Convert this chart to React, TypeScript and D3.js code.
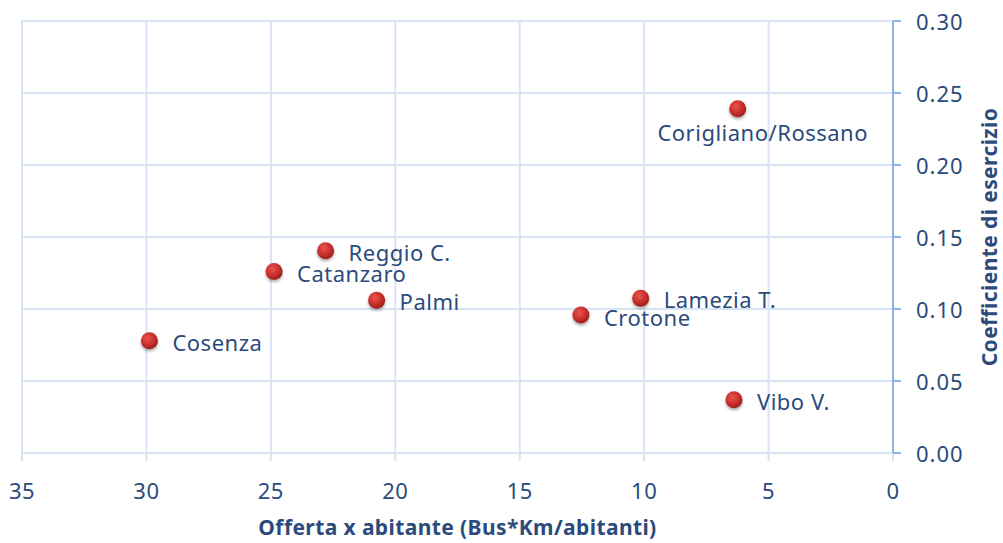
import React from "react";
import * as d3 from "d3";

const cities = ["Corigliano/Rossano", "Reggio C.", "Catanzaro", "Palmi", "Cosenza", "Lamezia T.", "Crotone", "Vibo V."];
const offerta = [6.24, 22.8, 24.87, 20.75, 29.88, 10.14, 12.54, 6.39];
const coefficiente = [0.239, 0.1405, 0.126, 0.106, 0.078, 0.1075, 0.0958, 0.037];
const xTicks = [35, 30, 25, 20, 15, 10, 5, 0];
const yTicks = [0, 0.05, 0.1, 0.15, 0.2, 0.25, 0.3];

const W = 1003;
const H = 543;
const left = 22;
const right = 893;
const top = 21;
const bottom = 453;

const gridColor = "#d7e4f5";
const textColor = "#2b4b7c";
const font = "'Noto Sans', 'Open Sans', sans-serif";

export default function App() {
  const x = d3.scaleLinear().domain([35, 0]).range([left, right]);
  const y = d3.scaleLinear().domain([0, 0.3]).range([bottom, top]);
  const fmt = d3.format(".2f");

  return (
    <svg width={W} height={H} style={{ position: "absolute", left: 0, top: 0, background: "#fff" }}>
      <defs>
        <radialGradient id="dot" cx="40%" cy="35%" r="65%">
          <stop offset="0%" stopColor="#e8554f" />
          <stop offset="60%" stopColor="#c9302c" />
          <stop offset="100%" stopColor="#9e1f1c" />
        </radialGradient>
        <filter id="shadow" x="-50%" y="-50%" width="200%" height="200%">
          <feDropShadow dx="0" dy="2" stdDeviation="1.6" floodColor="#000" floodOpacity="0.35" />
        </filter>
      </defs>

      {/* vertical grid + x ticks */}
      {xTicks.map(t => (
        <line key={"vx" + t} x1={x(t)} x2={x(t)} y1={top} y2={bottom + 8} stroke={gridColor} strokeWidth={2} />
      ))}
      {/* horizontal grid */}
      {yTicks.map(t => (
        <line key={"hy" + t} x1={left} x2={right} y1={y(t)} y2={y(t)} stroke={gridColor} strokeWidth={2} />
      ))}

      {/* right y axis */}
      <line x1={right} x2={right} y1={top} y2={bottom} stroke="#8db3e2" strokeWidth={2} />
      {yTicks.map(t => (
        <line key={"yt" + t} x1={right} x2={right + 8} y1={y(t)} y2={y(t)} stroke="#8db3e2" strokeWidth={2} />
      ))}

      {/* tick labels */}
      {xTicks.map(t => (
        <text key={"xl" + t} x={x(t)} y={490} textAnchor="middle" dominantBaseline="central"
          fontFamily={font} fontSize={22} letterSpacing={0.5} fill={textColor}>{t}</text>
      ))}
      {yTicks.map(t => (
        <text key={"yl" + t} x={916} y={y(t)} dominantBaseline="central"
          fontFamily={font} fontSize={22} letterSpacing={1} fill={textColor}>{fmt(t)}</text>
      ))}

      {/* axis titles */}
      <text x={(left + right) / 2} y={527} textAnchor="middle" dominantBaseline="central"
        fontFamily={font} fontSize={21} letterSpacing={0.4} fontWeight="bold" fill={textColor}>
        Offerta x abitante (Bus*Km/abitanti)
      </text>
      <text transform={`translate(989,${(top + bottom) / 2}) rotate(-90)`} textAnchor="middle" dominantBaseline="central"
        fontFamily={font} fontSize={21} letterSpacing={0.4} fontWeight="bold" fill={textColor}>
        Coefficiente di esercizio
      </text>

      {/* points */}
      {cities.map((c, i) => (
        <circle key={"p" + c} cx={x(offerta[i])} cy={y(coefficiente[i])} r={8.5}
          fill="url(#dot)" filter="url(#shadow)" />
      ))}

      {/* labels */}
      {cities.map((c, i) => {
        const below = i === 0;
        return (
          <text key={"l" + c}
            x={below ? x(offerta[i]) + 25 : x(offerta[i]) + 23}
            y={below ? y(coefficiente[i]) + 23 : y(coefficiente[i]) + (c === "Crotone" ? 2 : 1)}
            textAnchor={below ? "middle" : "start"} dominantBaseline="central"
            fontFamily={font} fontSize={22} letterSpacing={0.5} fill={textColor}>{c}</text>
        );
      })}
    </svg>
  );
}
